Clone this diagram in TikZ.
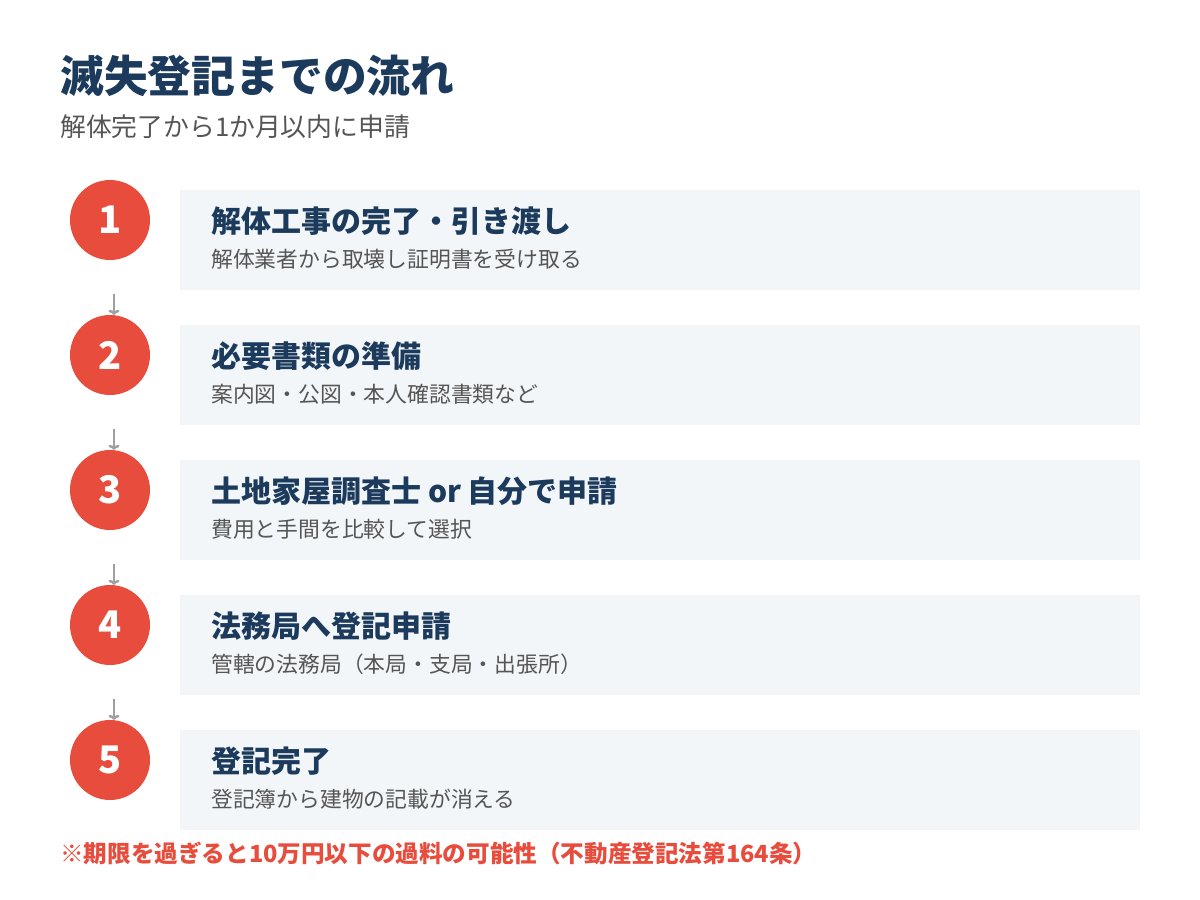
\documentclass[tikz,border=0pt]{standalone}
\usepackage{fontspec}
\setmainfont{Noto Sans CJK JP}
\usetikzlibrary{arrows.meta}
\definecolor{navy}{HTML}{1B3A5C}
\definecolor{accent}{HTML}{E74C3C}
\definecolor{subgray}{HTML}{555555}
\definecolor{boxfill}{HTML}{F3F6F9}
\definecolor{arrgray}{HTML}{A0A0A0}
\tikzset{
  numcircle/.style={circle, fill=accent, minimum size=80pt, inner sep=0pt, text=white, font=\fontsize{38}{38}\selectfont\bfseries},
  stepbox/.style={fill=boxfill, minimum width=960pt, minimum height=100pt, inner sep=0pt, anchor=north west},
  steptitle/.style={anchor=west, inner sep=0pt, text=navy, font=\fontsize{30}{30}\selectfont\bfseries},
  stepsub/.style={anchor=west, inner sep=0pt, text=subgray, font=\fontsize{21.8}{22}\selectfont},
  conn/.style={draw=arrgray, line width=2.5pt, -{To[length=5pt,width=11pt]}},
}
\begin{document}
\begin{tikzpicture}[x=1pt,y=-1pt]
\useasboundingbox (0,0) rectangle (1200,900);
\node[anchor=west, inner sep=0pt, text=navy, font=\fontsize{43.8}{44}\selectfont\bfseries] (title) at (60,76) {滅失登記までの流れ};
\node[anchor=west, inner sep=0pt, text=subgray, font=\fontsize{25.8}{26}\selectfont] (subtitle) at (60,127) {解体完了から1か月以内に申請};

\foreach \i/\t/\s in {
  1/解体工事の完了・引き渡し/解体業者から取壊し証明書を受け取る,
  2/必要書類の準備/案内図・公図・本人確認書類など,
  3/土地家屋調査士 or 自分で申請/費用と手間を比較して選択,
  4/法務局へ登記申請/管轄の法務局（本局・支局・出張所）,
  5/登記完了/登記簿から建物の記載が消える}{
  \pgfmathsetmacro{\yy}{220+135*(\i-1)}
  \node[stepbox] (box\i) at (180,\yy-30) {};
  \node[numcircle] (c\i) at (110,\yy) {\i};
  \node[steptitle] (t\i) at (211,\yy+1) {\t};
  \node[stepsub] (s\i) at (211,\yy+39) {\s};
}
\foreach \i [evaluate=\i as \j using int(\i+1)] in {1,2,3,4}{
  \coordinate (a\i) at ([xshift=4pt,yshift=-34pt]c\i.south);
  \coordinate (b\i) at ([xshift=4pt]c\j.north);
  \draw[conn] (a\i) -- (b\i);
}
\node[anchor=west, inner sep=0pt, text=accent, font=\fontsize{23.6}{24}\selectfont\bfseries] (note) at (60,853) {※期限を過ぎると10万円以下の過料の可能性（不動産登記法第164条）};
\end{tikzpicture}
\end{document}
